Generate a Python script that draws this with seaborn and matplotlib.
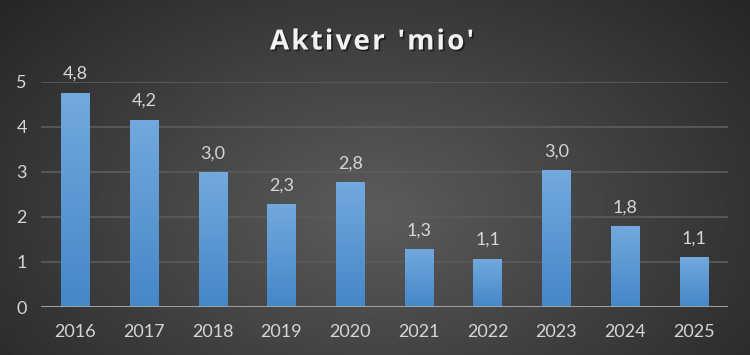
import numpy as np
import pandas as pd
import seaborn as sns
import matplotlib.pyplot as plt
import matplotlib.patheffects as pe
from matplotlib.colors import LinearSegmentedColormap

# Data
years = ["2016", "2017", "2018", "2019", "2020", "2021", "2022", "2023", "2024", "2025"]
values = [4.76, 4.16, 3.0, 2.29, 2.78, 1.29, 1.07, 3.04, 1.8, 1.11]
title = "Aktiver 'mio'"

df = pd.DataFrame({"year": years, "value": values})

sns.set_style("white")
plt.rcParams["font.family"] = ["Lato", "DejaVu Sans"]

fig = plt.figure(figsize=(7.5, 3.55), dpi=100)

# radial gradient background
bg = fig.add_axes([0, 0, 1, 1], zorder=-10)
xx, yy = np.meshgrid(np.linspace(0, 1, 300), np.linspace(0, 1, 150))
r = np.sqrt(((xx - 0.5) / 0.55) ** 2 + ((yy - 0.6) / 0.75) ** 2)
shade = 0.36 - 0.21 * np.clip(r, 0, 1.2) / 1.2
bg.imshow(shade, cmap="gray", vmin=0, vmax=1, aspect="auto", extent=[0, 1, 0, 1], origin="upper")
bg.axis("off")

ax = fig.add_axes([41 / 750, 1 - 307 / 355, 687 / 750, (307 - 82) / 355])
ax.patch.set_alpha(0)

sns.barplot(data=df, x="year", y="value", color="#5b9bd5", width=0.41, ax=ax, zorder=3)

# vertical gradient on each bar
bar_cmap = LinearSegmentedColormap.from_list("bar", ["#4587c8", "#72a9de"])
grad = np.linspace(0, 1, 100).reshape(-1, 1)
for p in ax.patches:
    x0, y0 = p.get_x(), p.get_y()
    w, h = p.get_width(), p.get_height()
    im = ax.imshow(grad, cmap=bar_cmap, aspect="auto", origin="lower",
                   extent=[x0, x0 + w, y0, y0 + h], zorder=3)
    im.set_clip_path(p)
    p.set_facecolor("none")
    p.set_edgecolor("none")
    ax.annotate(f"{h:.1f}".replace(".", ","), (x0 + w / 2, h), xytext=(0, 13.5),
                textcoords="offset points", ha="center", va="center",
                fontsize=13, color="#d6d6d6", zorder=5)

ax.set_xlim(-0.5, len(years) - 0.5)
ax.set_ylim(0, 5)
ax.set_yticks(range(6))
ax.grid(axis="y", color="#5a5a5a", linewidth=1.3, zorder=0)
ax.axhline(0, color="#a8a8a8", linewidth=2, zorder=4)
ax.set_xlabel("")
ax.set_ylabel("")
sns.despine(ax=ax, left=True, bottom=True)
ax.tick_params(axis="both", length=0, colors="#d6d6d6", labelsize=13)
ax.tick_params(axis="x", pad=12)
ax.tick_params(axis="y", pad=14)
for lbl in ax.get_yticklabels():
    lbl.set_horizontalalignment("center")

# title with letter spacing, drawn one character at a time
renderer = fig.canvas.get_renderer()
tkw = dict(fontsize=20, fontweight="bold", color="#f2f2f2",
           family=["Open Sans", "DejaVu Sans"], va="center", ha="left",
           path_effects=[pe.withSimplePatchShadow(offset=(1.2, -1.2), shadow_rgbFace="black", alpha=0.5)])
spacing = 2.2  # px
widths = []
for ch in title:
    t = fig.text(0, 0, ch if ch != " " else "i", **tkw)
    widths.append(t.get_window_extent(renderer).width)
    t.remove()
total = sum(widths) + spacing * (len(title) - 1)
x = 372 - total / 2
for ch, wch in zip(title, widths):
    if ch != " ":
        fig.text(x / 750, 1 - 42 / 355, ch, **tkw)
    x += wch + spacing

fig.savefig("out.png", dpi=100)
